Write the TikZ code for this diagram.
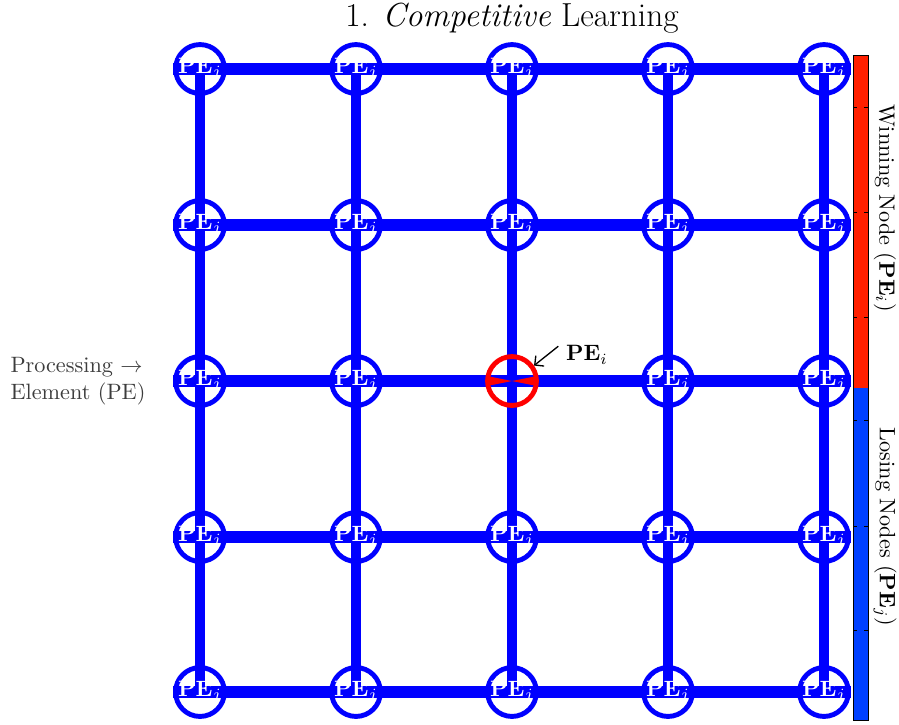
\documentclass[tikz,border=0pt]{standalone}
\usetikzlibrary{arrows.meta,backgrounds}
\definecolor{gridblue}{RGB}{0,0,255}
\definecolor{winred}{RGB}{255,32,0}
\definecolor{loseblue}{RGB}{0,64,255}
\definecolor{labelgray}{RGB}{60,60,60}
\begin{document}
\begin{tikzpicture}[
        x=0.45pt, y=-0.45pt,
        pe/.style={circle, draw=gridblue, line width=2.2pt, minimum size=22pt, inner sep=0pt, text=white, font=\bfseries},
        winner/.style={pe, draw=red},
        hbar/.style={gridblue, line width=5.6pt},
        vbar/.style={gridblue, line width=4.8pt},
        pointer/.style={-{Straight Barb[length=3pt]}, semithick}
    ]
        \useasboundingbox (0,0) rectangle (899,725);

        % Title
        \node (title) at (512,18) {\fontsize{15}{18}\selectfont 1. \textit{Competitive} Learning};

        % 5x5 map of processing elements
        \foreach \r/\y in {1/69,2/225,3/381,4/537,5/692}
          \foreach \c/\x in {1/200,2/356,3/512,4/668,5/824}
            {\ifnum\r\c=33
               \node[winner] (pe-\r-\c) at (\x,\y) {};
             \else
               \node[pe] (pe-\r-\c) at (\x,\y) {PE$_j$};
             \fi}

        % Lateral connections
        \begin{scope}[on background layer]
          \foreach \r in {1,...,5}
            \draw[hbar] (pe-\r-1.west) -- (pe-\r-5.east);
          \foreach \c in {1,...,5}
            \draw[vbar] (pe-1-\c.center) -- (pe-5-\c.center);
        \end{scope}

        % Winning node marker
        \fill[red] (pe-3-3.center) -- ++(-25,-5) -- ++(0,10) -- cycle;
        \fill[red] (pe-3-3.center) -- ++(25,-5) -- ++(0,10) -- cycle;
        \node (pei) at (587,355) {$\mathbf{PE}_i$};
        \draw[pointer] (pei.163) -- (pe-3-3.35);

        % Side label
        \node[align=left, text=labelgray] (proc) at (78,381) {Processing $\rightarrow$\\Element (PE)};

        % Colour bar
        \fill[winred] (853,55) rectangle (868,388);
        \fill[loseblue] (853,388) rectangle (868,720);
        \draw[thin] (853,55) rectangle (868,720);
        \foreach \t in {107,212,317,420,526,630}
          {\draw[thin] (853,\t) -- ++(4,0);
           \draw[thin] (868,\t) -- ++(-4,0);}
        \node[rotate=-90] (winlab) at (885,208) {Winning Node ($\mathbf{PE}_i$)};
        \node[rotate=-90] (loselab) at (885,527) {Losing Nodes ($\mathbf{PE}_j$)};

    \end{tikzpicture}
\end{document}
